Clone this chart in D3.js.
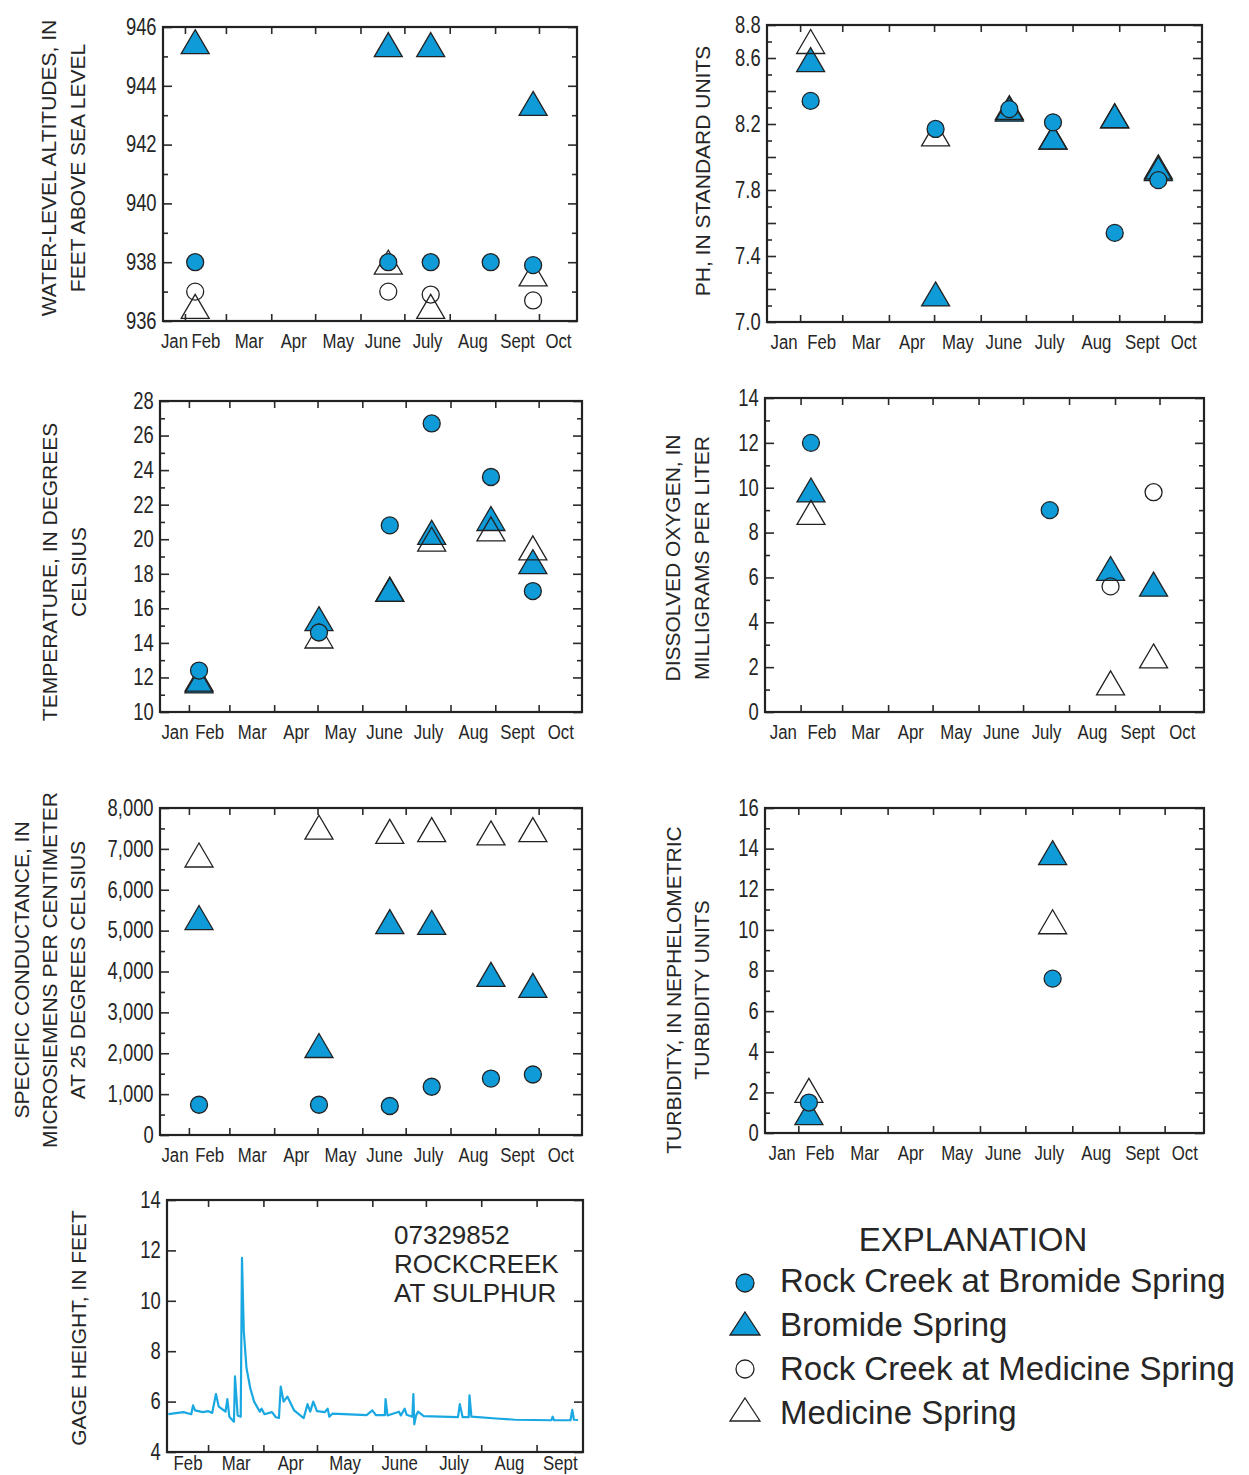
<!DOCTYPE html>
<html>
<head>
<meta charset="utf-8">
<script src="https://cdn.jsdelivr.net/npm/d3@7"></script>
<style>
  body { margin: 0; background: #fff; }
  svg { display: block; }
  .tk line { stroke: #2a2a2a; stroke-width: 1.6; }
  .tk path { display: none; }
  .lbl path, .lbl line { display: none; }
  .lbl text { font-family: "Liberation Sans", Arial, sans-serif; font-size: 21px; fill: #262626; }
  .lbl.val text { font-size: 23px; }
  .title { font-family: "Liberation Sans", Arial, sans-serif; font-size: 21px; fill: #262626; }
  .legend { font-family: "Liberation Sans", Arial, sans-serif; font-size: 33px; fill: #262626; }
  .station { font-family: "Liberation Sans", Arial, sans-serif; font-size: 26px; fill: #262626; }
</style>
</head>
<body>
<svg id="fig" width="1249" height="1475"></svg>
<script>
// ---- Sampling dates shared by the six water-quality panels ----
const sampleDates = ["2010-02-08", "2010-05-02", "2010-06-20", "2010-07-19", "2010-08-29", "2010-09-27"];

const monthNames = ["Jan", "Feb", "Mar", "Apr", "May", "June", "July", "Aug", "Sept", "Oct", "Nov", "Dec"];

// Water-level altitudes, feet above sea level
const levelCreekBromide  = [938.0, null, 938.0, 938.0, 938.0, 937.9];
const levelBromide       = [945.5, null, 945.4, 945.4, null, 943.4];
const levelCreekMedicine = [937.0, null, 937.0, 936.9, null, 936.7];
const levelMedicine      = [936.5, null, 938.0, 936.5, null, 937.6];

// pH, standard units
const phCreekBromide = [8.34, 8.17, 8.29, 8.21, 7.54, 7.86];
const phBromide      = [8.59, 7.17, 8.29, 8.12, 8.25, 7.93];
const phMedicine     = [8.70, 8.14, 8.30, 8.12, 8.25, 7.94];

// Temperature, degrees Celsius
const tempCreekBromide = [12.4, 14.6, 20.8, 26.7, 23.6, 17.0];
const tempBromide      = [11.8, 15.4, 17.1, 20.4, 21.2, 18.7];
const tempMedicine     = [11.9, 14.4, 17.1, 20.0, 20.6, 19.5];

// Dissolved oxygen, milligrams per liter
const doCreekBromide  = [12.0, null, null, 9.0, null, null];
const doBromide       = [9.9, null, null, null, 6.4, 5.7];
const doCreekMedicine = [null, null, null, null, 5.6, 9.8];
const doMedicine      = [8.9, null, null, null, 1.3, 2.5];

// Specific conductance, microsiemens per centimeter at 25 degrees Celsius
const condCreekBromide = [740, 740, 710, 1180, 1380, 1480];
const condBromide      = [5320, 2190, 5220, 5200, 3930, 3660];
const condMedicine     = [6850, 7530, 7430, 7470, 7390, 7470];

// Turbidity, nephelometric turbidity units
const turbCreekBromide = [1.5, null, null, 7.6, null, null];
const turbBromide      = [1.0, null, null, 13.8, null, null];
const turbMedicine     = [2.1, null, null, 10.4, null, null];

// Y-axis tick labels per panel
const levelTicks = [936, 938, 940, 942, 944, 946];
const phTicks    = [7.0, 7.4, 7.8, 8.2, 8.6, 8.8];
const tempTicks  = [10, 12, 14, 16, 18, 20, 22, 24, 26, 28];
const doTicks    = [0, 2, 4, 6, 8, 10, 12, 14];
const condTicks  = [0, 1000, 2000, 3000, 4000, 5000, 6000, 7000, 8000];
const turbTicks  = [0, 2, 4, 6, 8, 10, 12, 14, 16];
const gageTicks  = [4, 6, 8, 10, 12, 14];

// Gage height, Rock Creek at Sulphur (07329852), feet
const gageTimes = [
  "2010-02-06T18", "2010-02-15T07", "2010-02-19T14", "2010-02-20T14", "2010-02-21T17",
  "2010-02-26T00", "2010-03-01T05", "2010-03-03T07", "2010-03-05T10", "2010-03-07T00",
  "2010-03-10T19", "2010-03-11T19", "2010-03-12T22", "2010-03-15T12", "2010-03-16T02",
  "2010-03-17T14", "2010-03-19T07", "2010-03-20T00", "2010-03-21T00", "2010-03-22T12",
  "2010-03-24T14", "2010-03-26T19", "2010-03-30T00", "2010-03-31T00", "2010-04-01T14",
  "2010-04-05T19", "2010-04-08T00", "2010-04-09T17", "2010-04-10T17", "2010-04-12T07",
  "2010-04-14T10", "2010-04-18T05", "2010-04-22T12", "2010-04-23T14", "2010-04-25T17",
  "2010-04-27T05", "2010-04-28T22", "2010-05-01T00", "2010-05-05T07", "2010-05-07T00",
  "2010-05-07T22", "2010-05-09T14", "2010-05-28T19", "2010-06-01T00", "2010-06-03T02",
  "2010-06-08T00", "2010-06-08T10", "2010-06-09T12", "2010-06-15T22", "2010-06-17T00",
  "2010-06-19T02", "2010-06-20T05", "2010-06-23T10", "2010-06-24T00", "2010-06-24T12",
  "2010-06-25T12", "2010-06-26T14", "2010-06-29T19", "2010-07-19T00", "2010-07-20T00",
  "2010-07-21T14", "2010-07-25T00", "2010-07-25T10", "2010-07-26T12", "2010-08-09T10",
  "2010-08-20T00", "2010-09-09T07", "2010-09-10T00", "2010-09-10T19", "2010-09-20T00",
  "2010-09-21T00", "2010-09-21T22", "2010-09-24T05"
];
const gageHeights = [
  5.50, 5.58, 5.50, 5.85, 5.65,
  5.58, 5.62, 5.55, 6.30, 5.80,
  5.60, 6.10, 5.40, 5.20, 7.00,
  5.45, 5.40, 11.70, 8.80, 7.35,
  6.55, 6.00, 5.60, 5.72, 5.50,
  5.58, 5.38, 5.35, 6.60, 6.00,
  6.20, 5.65, 5.40, 5.35, 5.90,
  5.60, 6.00, 5.62, 5.58, 5.72,
  5.40, 5.52, 5.46, 5.65, 5.46,
  5.46, 6.10, 5.45, 5.60, 5.45,
  5.72, 5.48, 5.40, 6.30, 5.10,
  5.45, 5.60, 5.42, 5.38, 5.90,
  5.38, 5.38, 6.25, 5.40, 5.33,
  5.28, 5.26, 5.40, 5.26, 5.26,
  5.67, 5.28, 5.27
];

// ---- Drawing ----
const BLUE = "#0f9ad8";
const LINE_BLUE = "#1aa8e2";
const INK = "#222";
const NARROW = "scale(0.8,1)";   // condensed look for the axis numbers and month names
const parseDay = d3.utcParse("%Y-%m-%d");
const parseHour = d3.utcParse("%Y-%m-%dT%H");
const svg = d3.select("#fig");

const TRI = "M0,-12L14,12L-14,12Z";

function stations(cb, b, cm, m) {
  return [
    { vals: b,  shape: "tri",  fill: BLUE },
    { vals: m,  shape: "tri",  fill: "none" },
    { vals: cm, shape: "circ", fill: "none" },
    { vals: cb, shape: "circ", fill: BLUE }
  ].filter(s => s.vals);
}

const panels = [
  { x: 163, y: 27, w: 414, h: 294, start: "2010-01-17", end: "2010-10-27",
    yDomain: [936, 946], step: 1, major: 2, labels: levelTicks, fmt: d3.format("d"),
    title: ["WATER-LEVEL ALTITUDES, IN", "FEET ABOVE SEA LEVEL"], titleX: [48, 77], titleY: 168,
    series: stations(levelCreekBromide, levelBromide, levelCreekMedicine, levelMedicine) },
  { x: 767, y: 25, w: 435, h: 297, start: "2010-01-10", end: "2010-10-26",
    yDomain: [7.0, 8.8], step: 0.1, major: 2, labels: phTicks, fmt: d3.format(".1f"),
    title: ["PH, IN STANDARD UNITS"], titleX: [702], titleY: 171,
    series: stations(phCreekBromide, phBromide, null, phMedicine) },
  { x: 160, y: 401, w: 422, h: 311, start: "2010-01-12", end: "2010-10-31",
    yDomain: [10, 28], step: 1, major: 2, labels: tempTicks, fmt: d3.format("d"),
    title: ["TEMPERATURE, IN DEGREES", "CELSIUS"], titleX: [49, 78], titleY: 572,
    series: stations(tempCreekBromide, tempBromide, null, tempMedicine) },
  { x: 765, y: 398, w: 439, h: 314, start: "2010-01-08", end: "2010-10-31",
    yDomain: [0, 14], step: 1, major: 2, labels: doTicks, fmt: d3.format("d"),
    title: ["DISSOLVED OXYGEN, IN", "MILLIGRAMS PER LITER"], titleX: [672, 701], titleY: 558,
    series: stations(doCreekBromide, doBromide, doCreekMedicine, doMedicine) },
  { x: 160, y: 808, w: 422, h: 327, start: "2010-01-12", end: "2010-10-31",
    yDomain: [0, 8000], step: 500, major: 2, labels: condTicks, fmt: d3.format(","),
    title: ["SPECIFIC CONDUCTANCE, IN", "MICROSIEMENS PER CENTIMETER", "AT 25 DEGREES CELSIUS"],
    titleX: [21, 49, 77], titleY: 970,
    series: stations(condCreekBromide, condBromide, null, condMedicine) },
  { x: 765, y: 808, w: 439, h: 325, start: "2010-01-10", end: "2010-10-27",
    yDomain: [0, 16], step: 1, major: 2, labels: turbTicks, fmt: d3.format("d"),
    title: ["TURBIDITY, IN NEPHELOMETRIC", "TURBIDITY UNITS"], titleX: [673, 701], titleY: 990,
    series: stations(turbCreekBromide, turbBromide, null, turbMedicine) },
  { x: 167, y: 1200, w: 416, h: 252, start: "2010-02-06", end: "2010-09-27",
    yDomain: [4, 14], step: 2, major: 1, labels: gageTicks, fmt: d3.format("d"),
    title: ["GAGE HEIGHT, IN FEET"], titleX: [78], titleY: 1328,
    monthPad: 3, gage: true }
];

function monthMidpoints(x) {
  const [d0, d1] = x.domain();
  return d3.utcMonth.range(d3.utcMonth.floor(d0), d1).map(m => {
    const a = Math.max(+m, +d0);
    const b = Math.min(+d3.utcMonth.offset(m, 1), +d1);
    return new Date((a + b) / 2);
  });
}

function drawPanel(p) {
  const g = svg.append("g").attr("transform", `translate(${p.x},${p.y})`);
  const x = d3.scaleUtc().domain([parseDay(p.start), parseDay(p.end)]).range([0, p.w]);
  const y = d3.scaleLinear().domain(p.yDomain).range([p.h, 0]);

  // month boundaries, ticked inward on top and bottom edges
  const bounds = d3.utcMonth.range(d3.utcMonth.ceil(x.domain()[0]), x.domain()[1]);
  g.append("g").attr("class", "tk").attr("transform", `translate(0,${p.h})`)
    .call(d3.axisBottom(x).tickValues(bounds).tickSize(-7).tickFormat(""));
  g.append("g").attr("class", "tk")
    .call(d3.axisTop(x).tickValues(bounds).tickSize(-7).tickFormat(""));

  // value ticks: every step, longer at every `major` step
  const n = Math.round((p.yDomain[1] - p.yDomain[0]) / p.step);
  const all = d3.range(n + 1).map(i => p.yDomain[0] + i * p.step);
  const majors = all.filter((_, i) => i % p.major === 0);
  const minors = all.filter((_, i) => i % p.major !== 0);
  [[majors, -9], [minors, -5]].forEach(([vals, size]) => {
    if (!vals.length) return;
    g.append("g").attr("class", "tk")
      .call(d3.axisLeft(y).tickValues(vals).tickSize(size).tickFormat(""));
    g.append("g").attr("class", "tk").attr("transform", `translate(${p.w},0)`)
      .call(d3.axisRight(y).tickValues(vals).tickSize(size).tickFormat(""));
  });

  // value labels
  g.append("g").attr("class", "lbl val")
    .call(d3.axisLeft(y).tickValues(p.labels).tickSize(0).tickPadding(8).tickFormat(p.fmt))
    .selectAll("text").attr("transform", NARROW);

  // month labels centred in the visible part of each month
  g.append("g").attr("class", "lbl").attr("transform", `translate(0,${p.h})`)
    .call(d3.axisBottom(x).tickValues(monthMidpoints(x)).tickSize(0)
      .tickPadding(p.monthPad != null ? p.monthPad : 12)
      .tickFormat(d => monthNames[d.getUTCMonth()]))
    .selectAll("text").attr("transform", NARROW);

  // frame
  g.append("rect").attr("width", p.w).attr("height", p.h)
    .attr("fill", "none").attr("stroke", INK).attr("stroke-width", 2.2);

  // axis title
  p.title.forEach((t, i) => {
    svg.append("text").attr("class", "title")
      .attr("transform", `translate(${p.titleX[i]},${p.titleY}) rotate(-90)`)
      .attr("text-anchor", "middle").attr("dy", "0.36em").text(t);
  });

  if (p.gage) {
    const pts = gageTimes.map((t, i) => [parseHour(t), gageHeights[i]]);
    g.append("path").datum(pts)
      .attr("fill", "none").attr("stroke", LINE_BLUE).attr("stroke-width", 2.2)
      .attr("stroke-linejoin", "round")
      .attr("d", d3.line().x(d => x(d[0])).y(d => y(d[1])));
    const st = g.append("text").attr("class", "station");
    ["07329852", "ROCKCREEK", "AT SULPHUR"].forEach((t, i) => {
      st.append("tspan").attr("x", 227).attr("y", 44 + i * 29).text(t);
    });
    return;
  }

  // sample markers
  p.series.forEach(s => {
    const pts = sampleDates.map((d, i) => ({ date: parseDay(d), v: s.vals[i] })).filter(d => d.v != null);
    const sel = g.append("g").selectAll("path").data(pts).join("path")
      .attr("transform", d => `translate(${x(d.date)},${y(d.v)})`)
      .attr("fill", s.fill).attr("stroke", INK).attr("stroke-width", 1.3);
    if (s.shape === "tri") sel.attr("d", TRI);
    else sel.attr("d", d3.arc()({ innerRadius: 0, outerRadius: 8.5, startAngle: 0, endAngle: 2 * Math.PI }));
  });
}

panels.forEach(drawPanel);

// ---- Explanation ----
const leg = svg.append("g");
leg.append("text").attr("class", "legend").attr("x", 973).attr("y", 1251)
  .attr("text-anchor", "middle").text("EXPLANATION");
const legendRows = [
  { label: "Rock Creek at Bromide Spring", shape: "circ", fill: BLUE, cy: 1283, ty: 1292 },
  { label: "Bromide Spring", shape: "tri", fill: BLUE, cy: 1324, ty: 1336 },
  { label: "Rock Creek at Medicine Spring", shape: "circ", fill: "none", cy: 1369, ty: 1380 },
  { label: "Medicine Spring", shape: "tri", fill: "none", cy: 1410, ty: 1424 }
];
legendRows.forEach(r => {
  const m = leg.append("path").attr("transform", `translate(745,${r.cy})`)
    .attr("fill", r.fill).attr("stroke", INK).attr("stroke-width", 1.3);
  if (r.shape === "tri") m.attr("d", "M0,-12L15,11L-15,11Z");
  else m.attr("d", d3.arc()({ innerRadius: 0, outerRadius: 9, startAngle: 0, endAngle: 2 * Math.PI }));
  leg.append("text").attr("class", "legend").attr("x", 780).attr("y", r.ty).text(r.label);
});
</script>
</body>
</html>
